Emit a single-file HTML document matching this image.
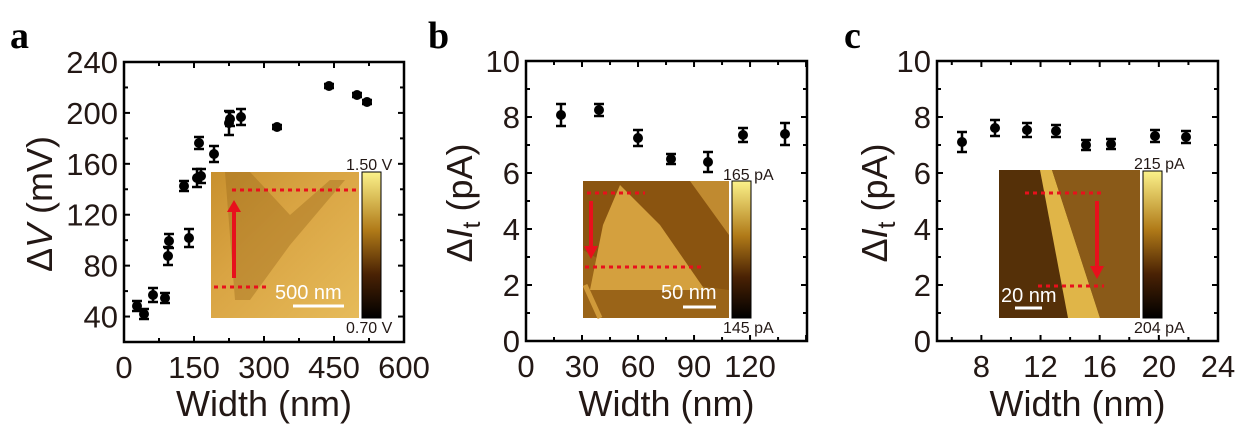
<!DOCTYPE html>
<html><head><meta charset="utf-8"><style>
html,body{margin:0;padding:0;background:#fff;}
svg{display:block;font-family:"Liberation Sans",sans-serif;}
</style></head><body>
<svg id="s" width="1256" height="433" viewBox="0 0 1256 433" xmlns="http://www.w3.org/2000/svg">
<defs>
<linearGradient id="cb" x1="0" y1="1" x2="0" y2="0">
<stop offset="0" stop-color="#000"/><stop offset="0.3" stop-color="#4a2204"/><stop offset="0.6" stop-color="#b07a18"/><stop offset="1" stop-color="#fbf28a"/>
</linearGradient>
<linearGradient id="ga" x1="0" y1="0" x2="1" y2="1">
<stop offset="0" stop-color="#c8902e"/><stop offset="0.4" stop-color="#d9a443"/><stop offset="1" stop-color="#e6bb5a"/>
</linearGradient>
</defs>
<g font-family="Liberation Serif,serif" font-weight="bold" font-size="38" fill="#000">
<text x="10" y="48">a</text><text x="428" y="48">b</text><text x="844" y="48">c</text>
</g>

<!-- inset a -->
<rect x="211" y="172" width="148" height="146" fill="url(#ga)"/>
<polygon points="225,172 250,172 290,215 330,180 345,180 290,245 250,300 235,300" fill="#9c6a1c" opacity="0.4"/>
<line x1="232" y1="190" x2="357" y2="190" stroke="#e8101c" stroke-width="3" stroke-dasharray="4,4"/>
<line x1="214" y1="287" x2="270" y2="287" stroke="#e8101c" stroke-width="3" stroke-dasharray="4,4"/>
<line x1="234" y1="278" x2="234" y2="208" stroke="#e8101c" stroke-width="4"/>
<polygon points="227,212 234,200 241,212" fill="#e8101c"/>
<text x="275" y="299" font-size="20" fill="#fff">500 nm</text>
<line x1="293" y1="306" x2="344" y2="306" stroke="#fff" stroke-width="3"/>
<rect x="362" y="172" width="19" height="146" fill="url(#cb)" stroke="#000" stroke-width="1"/>
<text x="346" y="170" font-size="16" fill="#231815">1.50 V</text>
<text x="346" y="333" font-size="16" fill="#231815">0.70 V</text>

<!-- inset b -->
<rect x="583" y="181" width="146" height="137" fill="#8a5410"/>
<polygon points="583,250 583,318 729,318 729,290 670,282 630,277" fill="#9a6418"/>
<polygon points="620,185 660,225 705,290 590,290 603,225" fill="#d4a03e"/>
<polygon points="690,181 729,181 729,235" fill="#c08a30"/>
<line x1="585" y1="285" x2="600" y2="318" stroke="#d09a3a" stroke-width="5"/>
<line x1="587" y1="193" x2="645" y2="193" stroke="#e8101c" stroke-width="3" stroke-dasharray="4,4"/>
<line x1="585" y1="267" x2="705" y2="267" stroke="#e8101c" stroke-width="3" stroke-dasharray="4,4"/>
<line x1="591" y1="201" x2="591" y2="248" stroke="#e8101c" stroke-width="4"/>
<polygon points="584,246 591,259 598,246" fill="#e8101c"/>
<text x="661" y="299" font-size="20" fill="#fff">50 nm</text>
<line x1="683" y1="307" x2="716" y2="307" stroke="#fff" stroke-width="3"/>
<rect x="732" y="181" width="19" height="137" fill="url(#cb)" stroke="#000" stroke-width="1"/>
<text x="723" y="180" font-size="16" fill="#231815">165 pA</text>
<text x="723" y="333" font-size="16" fill="#231815">145 pA</text>

<!-- inset c -->
<rect x="999" y="170" width="141" height="148" fill="#6e4410"/>
<polygon points="999,170 1040,170 1072,318 999,318" fill="#553008"/>
<polygon points="1040,170 1052,170 1100,318 1068,318" fill="#e0b548"/>
<polygon points="1052,170 1140,170 1140,318 1100,318" fill="#8a5a18"/>
<line x1="1025" y1="193" x2="1102" y2="193" stroke="#e8101c" stroke-width="3" stroke-dasharray="4,4"/>
<line x1="1038" y1="286" x2="1104" y2="286" stroke="#e8101c" stroke-width="3" stroke-dasharray="4,4"/>
<line x1="1097" y1="201" x2="1097" y2="268" stroke="#e8101c" stroke-width="4"/>
<polygon points="1090,266 1097,279 1104,266" fill="#e8101c"/>
<text x="1001" y="302" font-size="20" fill="#fff">20 nm</text>
<line x1="1015" y1="308" x2="1042" y2="308" stroke="#fff" stroke-width="3"/>
<rect x="1143" y="171" width="19" height="147" fill="url(#cb)" stroke="#000" stroke-width="1"/>
<text x="1134" y="169" font-size="16" fill="#231815">215 pA</text>
<text x="1134" y="333" font-size="16" fill="#231815">204 pA</text>

<g id="axes"></g>
</svg>
<script>
const NS="http://www.w3.org/2000/svg",g=document.getElementById("axes");
function el(t,a,txt){const e=document.createElementNS(NS,t);for(const k in a)e.setAttribute(k,a[k]);if(txt!==undefined)e.textContent=txt;g.appendChild(e);return e;}
function panel(p){
 const {x0,x1,y0,y1,xmin,xmax,ymin,ymax}=p;
 const X=v=>x0+(v-xmin)/(xmax-xmin)*(x1-x0), Y=v=>y1-(v-ymin)/(ymax-ymin)*(y1-y0);
 el("rect",{x:x0,y:y0,width:x1-x0,height:y1-y0,fill:"none",stroke:"#000","stroke-width":2.5});
 for(let v=p.xt0;v<=xmax+1e-9;v+=p.xminor){if(v<xmin-1e-9)continue;const M=Math.abs(((v-p.xt0)/p.xminor)%2)<1e-6;const L=M?6:4;const xx=X(v);
  el("line",{x1:xx,y1:y1,x2:xx,y2:y1-L,stroke:"#000","stroke-width":2});el("line",{x1:xx,y1:y0,x2:xx,y2:y0+L,stroke:"#000","stroke-width":2});
  if(M && !(p.nolast && v>=p.nolast)) el("text",{x:xx,y:y1+36,"text-anchor":"middle","font-size":31,fill:"#231815"},String(Math.round(v)));}
 for(let v=p.yt0;v<=ymax+1e-9;v+=p.yminor){const M=Math.abs(((v-p.yt0)/p.yminor)%2)<1e-6;const L=M?6:4;const yy=Y(v);
  el("line",{x1:x0,y1:yy,x2:x0+L,y2:yy,stroke:"#000","stroke-width":2});el("line",{x1:x1,y1:yy,x2:x1-L,y2:yy,stroke:"#000","stroke-width":2});
  if(M) el("text",{x:x0-6,y:yy+11,"text-anchor":"end","font-size":31,fill:"#231815"},String(Math.round(v)));}
 el("text",{x:(x0+x1)/2,y:416,"text-anchor":"middle","font-size":36,fill:"#231815"},"Width (nm)");
 const t=el("text",{transform:`translate(${p.ylx},${(y0+y1)/2+2}) rotate(-90)`,"text-anchor":"middle","font-size":36,fill:"#231815"});
 t.innerHTML=p.ylab;
 p.pts.forEach(([px,py,e])=>{
  el("line",{x1:px,y1:py-e,x2:px,y2:py+e,stroke:"#000","stroke-width":2.5});
  el("line",{x1:px-5,y1:py-e,x2:px+5,y2:py-e,stroke:"#000","stroke-width":2.5});
  el("line",{x1:px-5,y1:py+e,x2:px+5,y2:py+e,stroke:"#000","stroke-width":2.5});
  el("circle",{cx:px,cy:py,r:5,fill:"#000"});});
}
panel({x0:124,x1:404,y0:62,y1:342,xmin:0,xmax:600,ymin:20,ymax:240,xt0:0,xminor:75,yt0:40,yminor:20,ylx:52,
 ylab:'<tspan>Δ</tspan><tspan font-style="italic">V</tspan> (mV)',
 pts:[[137,306,5],[144,314,5],[153,295,7],[165,298,5],[169,241,7],[168,256,9],[184,186,5],[189,238,9],[199,143,6],[197,178,9],[201,176,7],[214,154,8],[229,123,12],[230,119,7],[241,117,8],[277,127,2],[329,86,2],[357,95,2],[367,102,2]]});
panel({x0:526,x1:807,y0:61,y1:341,xmin:0,xmax:150.5,ymin:0,ymax:10,xt0:0,xminor:15,yt0:0,yminor:1,ylx:472,nolast:150,
 ylab:'Δ<tspan font-style="italic">I</tspan><tspan font-size="25" dy="8">t</tspan><tspan dy="-8"> (pA)</tspan>',
 pts:[[561,115,11],[599,110,6],[638,138,8],[671,159,5],[708,162,10],[743,135,7],[785,134,11]]});
panel({x0:937,x1:1218,y0:61,y1:341,xmin:5,xmax:24,ymin:0,ymax:10,xt0:4,xminor:2,yt0:0,yminor:1,ylx:887,
 ylab:'Δ<tspan font-style="italic">I</tspan><tspan font-size="25" dy="8">t</tspan><tspan dy="-8"> (pA)</tspan>',
 pts:[[962,142,10],[995,128,8],[1027,130,7],[1056,131,6],[1086,145,5],[1111,144,5],[1155,136,6],[1186,137,6]]});
</script>
</body></html>
